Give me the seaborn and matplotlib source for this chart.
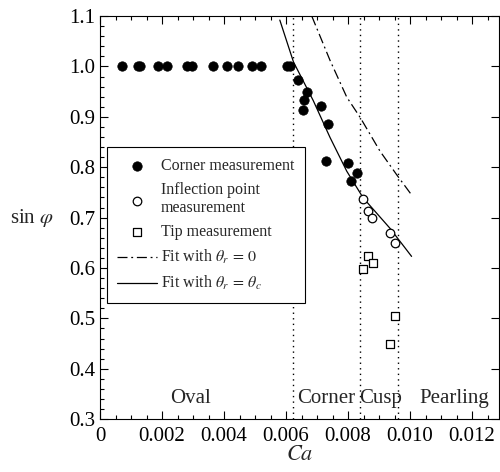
import numpy as np
import pandas as pd
import matplotlib
matplotlib.use("Agg")
import matplotlib.pyplot as plt
import seaborn as sns
from matplotlib.ticker import MultipleLocator, FixedLocator

# --- DATA ---
corner_ca = [0.0007, 0.00124, 0.00129, 0.00188, 0.00215, 0.0028, 0.00296, 0.00364,
             0.0041, 0.00446, 0.0049, 0.00518, 0.00602, 0.00613,
             0.00638, 0.00667, 0.00659, 0.00656, 0.00714, 0.00737, 0.00729,
             0.00801, 0.0083, 0.00809]
corner_sin = [1.0, 1.0, 1.0, 1.0, 1.0, 1.0, 1.0, 1.0,
              1.0, 1.0, 1.0, 1.0, 1.0, 1.0,
              0.974, 0.95, 0.934, 0.914, 0.922, 0.886, 0.813,
              0.808, 0.788, 0.772]

inflect_ca = [0.00847, 0.00866, 0.00876, 0.00935, 0.0095]
inflect_sin = [0.737, 0.714, 0.699, 0.670, 0.649]

tip_ca = [0.00866, 0.00879, 0.00848, 0.0095, 0.00934]
tip_sin = [0.624, 0.609, 0.598, 0.504, 0.449]

fit_c_ca = [0.0058, 0.00624, 0.00688, 0.00742, 0.00796, 0.00849, 0.00935, 0.01005]
fit_c_sin = [1.092, 1.009, 0.932, 0.859, 0.792, 0.739, 0.679, 0.623]

fit_0_ca = [0.00683, 0.00742, 0.00796, 0.00839, 0.00903, 0.00957, 0.01005]
fit_0_sin = [1.10, 1.012, 0.939, 0.899, 0.832, 0.785, 0.745]

regime_bounds = [0.00624, 0.0084, 0.00962]
regime_names = ["Oval", "Corner", "Cusp", "Pearling"]
regime_x = [0.00293, 0.00729, 0.00906, 0.01144]

x_ticks = [0, 0.002, 0.004, 0.006, 0.008, 0.010, 0.012]
x_labels = ["0", "0.002", "0.004", "0.006", "0.008", "0.010", "0.012"]

# --- STYLE ---
sns.set_theme(style="ticks")
plt.rcParams['font.family'] = ['Liberation Serif', 'DejaVu Serif']
plt.rcParams['mathtext.fontset'] = 'stix'
plt.rcParams['axes.linewidth'] = 0.8

fig = plt.figure(figsize=(5.0, 4.72), dpi=100)
ax = fig.add_axes([0.2, 0.112, 0.798, 0.854])

# regime boundaries
for b in regime_bounds:
    ax.axvline(b, color='black', linestyle=(0, (1, 3)), linewidth=1.0)

# fits
fit0 = pd.DataFrame({'Ca': fit_0_ca, 'sin': fit_0_sin})
fitc = pd.DataFrame({'Ca': fit_c_ca, 'sin': fit_c_sin})
sns.lineplot(data=fit0, x='Ca', y='sin', ax=ax, color='black', linewidth=0.9,
             linestyle=(0, (8, 3, 1.5, 3)), sort=False,
             label=r'Fit with $\theta_r \,=\, 0$')
sns.lineplot(data=fitc, x='Ca', y='sin', ax=ax, color='black', linewidth=0.9,
             sort=False, label=r'Fit with $\theta_r \,=\, \theta_c$')

# measurements
sns.scatterplot(x=corner_ca, y=corner_sin, ax=ax, color='black', s=46,
                marker='o', edgecolor='black', linewidth=0.5,
                label='Corner measurement', zorder=5)
sns.scatterplot(x=inflect_ca, y=inflect_sin, ax=ax, facecolor='white', s=38,
                marker='o', edgecolor='black', linewidth=0.9,
                label='Inflection point\nmeasurement', zorder=5)
sns.scatterplot(x=tip_ca, y=tip_sin, ax=ax, facecolor='white', s=30,
                marker='s', edgecolor='black', linewidth=0.9,
                label='Tip measurement', zorder=5)

# region labels
for name, xc in zip(regime_names, regime_x):
    ax.text(xc, 0.333, name, ha='center', va='baseline', fontsize=15)

ax.set_xlim(0, 0.01287)
ax.set_ylim(0.3, 1.1)
ax.xaxis.set_major_locator(FixedLocator(x_ticks))
ax.set_xticklabels(x_labels)
ax.xaxis.set_minor_locator(MultipleLocator(0.0005))
ax.yaxis.set_major_locator(MultipleLocator(0.1))
ax.yaxis.set_minor_locator(MultipleLocator(0.02))
ax.tick_params(which='both', direction='in', top=True, right=True, colors='black',
               labelsize=15)
ax.tick_params(axis='x', which='major', pad=6)
ax.tick_params(which='major', length=6, width=0.8)
ax.tick_params(which='minor', length=3, width=0.8, right=False)
for s in ax.spines.values():
    s.set_color('black')
    s.set_visible(True)

ax.set_xlabel('$Ca$', fontsize=16, labelpad=0)
ax.set_ylabel(r'sin $\varphi$', fontsize=15, rotation=0, va='center')
ax.yaxis.set_label_coords(-0.17, 0.5)

handles, labels = ax.get_legend_handles_labels()
order = [2, 3, 4, 0, 1]
leg = ax.legend([handles[i] for i in order], [labels[i] for i in order],
                loc='upper left', bbox_to_anchor=(0.017, 0.674), fontsize=11.5,
                frameon=True, fancybox=False, edgecolor='black', framealpha=1,
                handlelength=2.5, handletextpad=0.25, labelspacing=0.5,
                borderpad=0.65, borderaxespad=0)
leg.get_frame().set_linewidth(0.8)

fig.savefig('out.png', dpi=100)
